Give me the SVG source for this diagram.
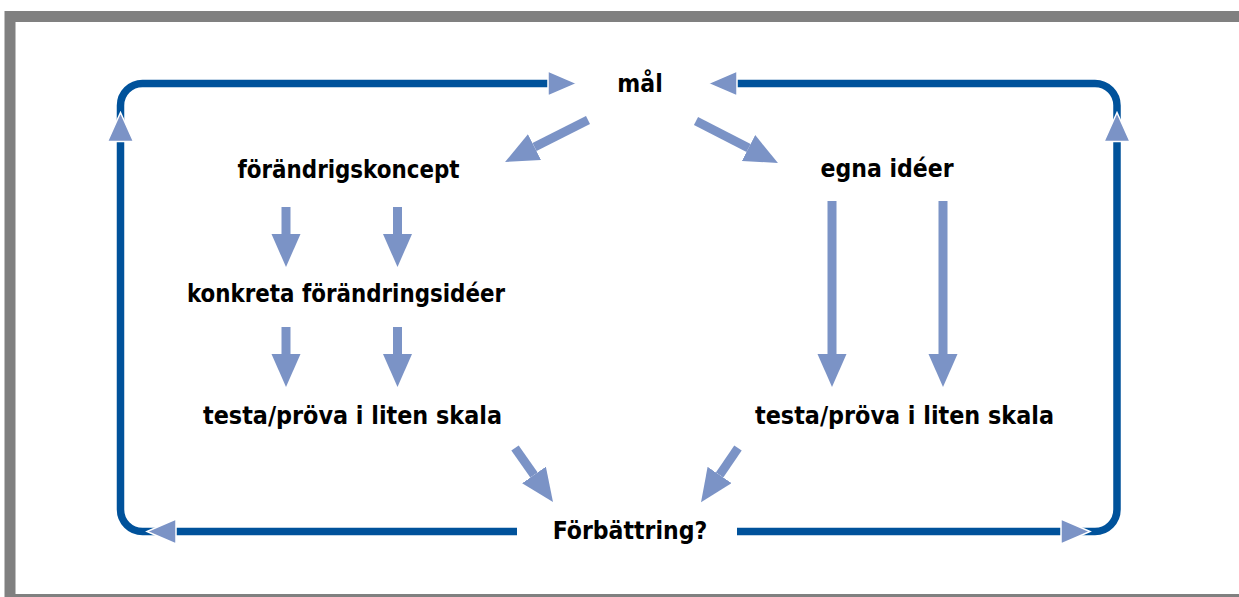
<svg xmlns="http://www.w3.org/2000/svg" width="1239" height="597" viewBox="0 0 1239 597">
<defs>
<style>
.frame{fill:none;stroke:#808080;stroke-width:11}
.loop{fill:none;stroke:#00529B;stroke-width:7.5}
.loophead{fill:#7B93C6;stroke:#ffffff;stroke-width:1.5}
.flow{stroke:#7B93C6;stroke-width:9;fill:none}
.flowv{stroke:#7B93C6;stroke-width:9;fill:none}
.lbl{font-family:"DejaVu Sans Condensed","DejaVu Sans",Verdana,sans-serif;font-stretch:condensed;font-weight:bold;font-size:24.5px;fill:#000;text-anchor:middle}
</style>
<marker id="head" markerUnits="userSpaceOnUse" markerWidth="34" markerHeight="30" refX="0" refY="14.5" orient="auto" viewBox="0 0 34 30">
<path d="M0,0 L33,14.5 L0,29 z" fill="#7B93C6"/>
</marker>
</defs>
<rect x="0" y="0" width="1239" height="597" fill="#ffffff"/>
<rect class="frame" x="10" y="16.5" width="1240" height="583"/>

<g id="connectors">
<path class="loop" d="M517,531.5 H142.5 A22,22 0 0 1 120.5,509.5 V105.5 A22,22 0 0 1 142.5,83.5 H560"/>
<path class="loop" d="M737,531.5 H1095 A22,22 0 0 0 1117,509.5 V105.5 A22,22 0 0 0 1095,83.5 H725"/>
<polygon class="loophead" points="548,71 548,96 577,83.5"/>
<polygon class="loophead" points="737,71 737,96 708,83.5"/>
<polygon class="loophead" points="107.5,141.5 133.5,141.5 120.5,112.5"/>
<polygon class="loophead" points="1104,141.5 1130,141.5 1117,112.5"/>
<polygon class="loophead" points="176,519 176,544 147,531.5"/>
<polygon class="loophead" points="1061,519 1061,544 1090,531.5"/>

<line class="flow" x1="588" y1="120" x2="534.5" y2="147.1" marker-end="url(#head)"/>
<line class="flow" x1="696" y1="121" x2="748.6" y2="148" marker-end="url(#head)"/>
<line class="flow" x1="515" y1="448" x2="534" y2="475" marker-end="url(#head)"/>
<line class="flow" x1="738" y1="448" x2="719.6" y2="475" marker-end="url(#head)"/>

<line class="flowv" x1="286" y1="207" x2="286" y2="234" marker-end="url(#head)"/>
<line class="flowv" x1="397.5" y1="207" x2="397.5" y2="234" marker-end="url(#head)"/>
<line class="flowv" x1="286" y1="327" x2="286" y2="354" marker-end="url(#head)"/>
<line class="flowv" x1="397.5" y1="327" x2="397.5" y2="354" marker-end="url(#head)"/>
<line class="flowv" x1="832" y1="201" x2="832" y2="354" marker-end="url(#head)"/>
<line class="flowv" x1="943" y1="201" x2="943" y2="354" marker-end="url(#head)"/>
</g>

<g id="n-mal"><text class="lbl" x="640" y="92">mål</text></g>
<g id="n-forandringskoncept"><text class="lbl" x="348.5" y="178" textLength="222" lengthAdjust="spacingAndGlyphs">förändrigskoncept</text></g>
<g id="n-egna-ideer"><text class="lbl" x="887" y="177">egna idéer</text></g>
<g id="n-konkreta"><text class="lbl" x="346" y="302" textLength="318" lengthAdjust="spacingAndGlyphs">konkreta förändringsidéer</text></g>
<g id="n-testa-vanster"><text class="lbl" x="352.5" y="424" textLength="299" lengthAdjust="spacingAndGlyphs">testa/pröva i liten skala</text></g>
<g id="n-testa-hoger"><text class="lbl" x="904.5" y="424" textLength="299" lengthAdjust="spacingAndGlyphs">testa/pröva i liten skala</text></g>
<g id="n-forbattring"><text class="lbl" x="630" y="539">Förbättring?</text></g>
</svg>
